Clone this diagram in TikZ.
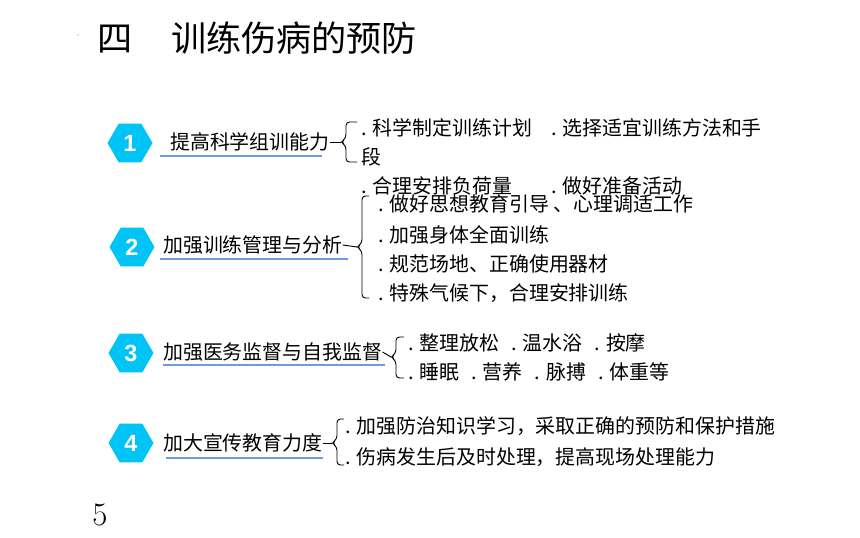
\documentclass[tikz,border=0pt]{standalone}
\usepackage{fontspec}
\newfontfamily\cjk{Noto Sans CJK SC}
\newfontfamily\numfont{Liberation Sans}
\usetikzlibrary{shapes.geometric}
\definecolor{hexcyan}{RGB}{0,196,245}
\definecolor{lineblue}{RGB}{110,155,230}
\begin{document}
\begin{tikzpicture}[x=0.03cm, y=-0.03cm,
  hexnum/.style={regular polygon, regular polygon sides=6, minimum size=1.35cm, inner sep=0pt, fill=hexcyan, text=white, font=\numfont\bfseries\fontsize{20}{20}\selectfont},
  topic/.style={anchor=west, inner sep=0pt, font=\cjk\fontsize{17}{20}\selectfont},
  item/.style={anchor=west, inner sep=0pt, font=\cjk\fontsize{17}{20}\selectfont},
  uline/.style={lineblue, line width=1.2pt},
  brace/.style={line width=0.8pt, rounded corners=3pt}]
\useasboundingbox (0,0) rectangle (860,538);
\node [anchor=west, inner sep=0pt, font=\cjk\fontsize{30}{32}\selectfont] (title) at (97,38) {四\hspace{1.1em}训练伤病的预防};
\fill [gray] (78,35) circle (0.7);
\node [inner sep=0pt, font=\fontsize{28}{30}\selectfont] (page) at (100,515) {5};
% 1
\node [hexnum] (n1) at (130,143) {1};
\node [topic] (l1) at (170,142) {提高科学组训能力};
\draw [uline] (160,156) -- (322,156);
\coordinate (t1) at (341,142);
\draw [brace] (l1.east) -- (t1);
\draw [brace] (357,122) -- (346,122) -- (346,138) -- (t1) -- (346,146) -- (346,162) -- (357,162);
\node [item] (a1) at (361,128) {. 科学制定训练计划};
\node [item] (a2) at (551,128) {. 选择适宜训练方法和手};
\node [item] (a3) at (361,157) {段};
\node [item] (a4) at (361,186) {. 合理安排负荷量};
\node [item] (a5) at (551,186) {. 做好准备活动};
% 2
\node [hexnum] (n2) at (132,247) {2};
\node [topic] (l2) at (163,245) {加强训练管理与分析};
\draw [uline] (160,259) -- (348,259);
\coordinate (t2) at (357,247);
\draw [brace] (l2.east) -- (t2);
\draw [brace] (369,196) -- (362,196) -- (362,243) -- (t2) -- (362,251) -- (362,298) -- (369,298);
\node [item] (b1) at (378,204) {. 做好思想教育引导 、心理调适工作};
\node [item] (b2) at (378,235) {. 加强身体全面训练};
\node [item] (b3) at (378,264) {. 规范场地、正确使用器材};
\node [item] (b4) at (378,293) {. 特殊气候下，合理安排训练};
% 3
\node [hexnum] (n3) at (131,353) {3};
\node [topic] (l3) at (163,352) {加强医务监督与自我监督};
\draw [uline] (163,365) -- (385,365);
\coordinate (t3) at (391,357);
\draw [brace] (l3.east) -- (t3);
\draw [brace] (404,337) -- (396,337) -- (396,353) -- (t3) -- (396,361) -- (396,378) -- (404,378);
\node [item] (c1) at (408,343) {. 整理放松\hspace{.6em}. 温水浴\hspace{.6em}. 按摩};
\node [item] (c2) at (408,372) {. 睡眠\hspace{.6em}. 营养\hspace{.6em}. 脉搏\hspace{.6em}. 体重等};
% 4
\node [hexnum] (n4) at (131,443) {4};
\node [topic] (l4) at (163,443) {加大宣传教育力度};
\draw [uline] (166,458) -- (323,458);
\coordinate (t4) at (332,443);
\draw [brace] (l4.east) -- (t4);
\draw [brace] (344,419) -- (337,419) -- (337,439) -- (t4) -- (337,447) -- (337,465) -- (344,465);
\node [item] (d1) at (345,426) {. 加强防治知识学习，采取正确的预防和保护措施};
\node [item] (d2) at (345,457) {. 伤病发生后及时处理，提高现场处理能力};
\end{tikzpicture}
\end{document}
